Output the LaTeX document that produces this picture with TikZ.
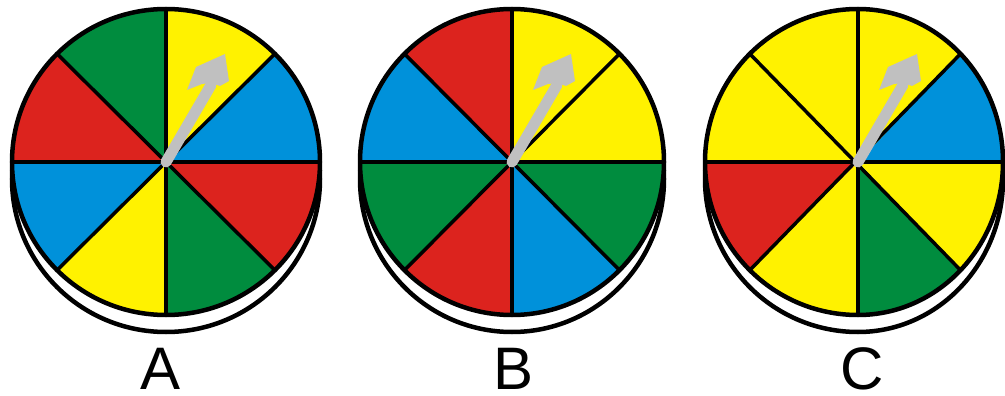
\documentclass[tikz,border=0pt]{standalone}
\usepackage{fontspec}
\setmainfont{Liberation Sans}
\definecolor{sgreen}{RGB}{0,140,62}
\definecolor{syellow}{RGB}{255,242,0}
\definecolor{sred}{RGB}{220,35,30}
\definecolor{sblue}{RGB}{0,145,218}
\definecolor{sgray}{RGB}{192,192,192}
\tikzset{
  rim/.style={draw=black,line width=4.5pt},
  spoke/.style={draw=black,line width=3.5pt},
  pointer/.style={draw=sgray,line width=11pt,line cap=round},
  pointerhead/.style={fill=sgray},
  letter/.style={font=\fontsize{60}{60}\selectfont,anchor=base,inner sep=0pt}
}
\newcommand\spinwheel[5]{%
  \begin{scope}[shift={(#1,-162)}]
    % base shadow
    \path[rim,fill=white] (0,{#4-17}) arc[start angle=90,end angle=270,x radius=#2,y radius=#4]
      arc[start angle=270,end angle=450,x radius=#3,y radius=#4] -- cycle;
    % sectors
    \foreach \c [count=\i from 0] in {#5} {
      \pgfmathsetmacro\sa{\i*45}
      \pgfmathsetmacro\ea{\i*45+45}
      \pgfmathsetmacro\rx{(\i>1 && \i<6) ? #2 : #3}
      \fill[\c] (0,0) -- (\sa:\rx pt and #4pt) arc[start angle=\sa,end angle=\ea,x radius=\rx,y radius=#4] -- cycle;
    }
    % spokes
    \draw[spoke] (45:#3pt and #4pt) -- (225:#2pt and #4pt);
    \draw[spoke] (135:#2pt and #4pt) -- (315:#3pt and #4pt);
    \draw[spoke] (0:#3pt and #4pt) -- (180:#2pt and #4pt);
    \draw[spoke] (0,#4) -- (0,-#4);
    % rim
    \path[rim] (0,#4) arc[start angle=90,end angle=270,x radius=#2,y radius=#4]
      arc[start angle=270,end angle=450,x radius=#3,y radius=#4] -- cycle;
    % pointer
    \draw[pointer] (0,0) -- (45,77);
    \fill[pointerhead] (59,108) -- (63,81) -- (54,76) -- (45,79) -- (36,78) -- (21,72) -- (30,95) -- cycle;
  \end{scope}
}
\begin{document}
\begin{tikzpicture}[x=1pt,y=1pt]
  \useasboundingbox (0,0) rectangle (1005,-396);
  \spinwheel{166}{154}{154}{153}{sblue,syellow,sgreen,sred,sblue,syellow,sgreen,sred}
  \spinwheel{512}{152}{152}{153}{syellow,syellow,sred,sblue,sgreen,sred,sblue,sgreen}
  \spinwheel{858}{153}{145}{153}{sblue,syellow,syellow,syellow,sred,syellow,sgreen,syellow}
  \node[letter] (labA) at (161,-389) {A};
  \node[letter] (labB) at (514,-389) {B};
  \node[letter] (labC) at (862,-389) {C};
\end{tikzpicture}
\end{document}
